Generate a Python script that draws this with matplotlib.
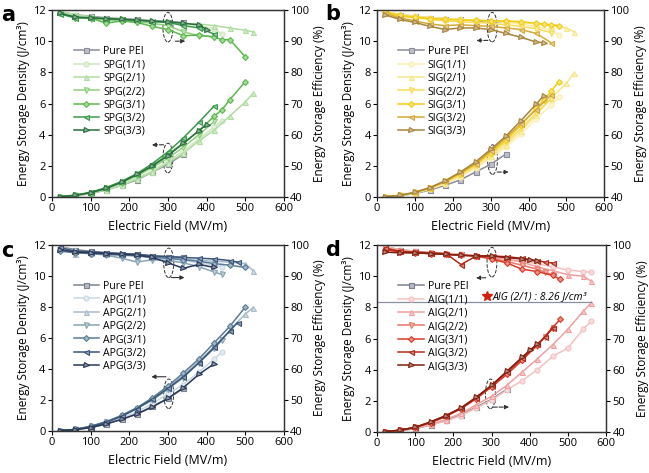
import matplotlib.pyplot as plt
from matplotlib.patches import Ellipse
from matplotlib.colors import to_rgb

plt.rcParams['font.family'] = ['Open Sans', 'DejaVu Sans']

# ---------------------------------------------------------------
# Data (fields in MV/m, density in J/cm3, efficiency in %)
# ---------------------------------------------------------------

markers = ['s', 'o', '^', 'v', 'D', '<', '>']

pei_field   = [20, 60, 100, 140, 180, 220, 260, 300, 340]
pei_density = [0.02, 0.08, 0.22, 0.45, 0.75, 1.1, 1.6, 2.1, 2.75]
pei_eff     = [99.5, 98.5, 98, 97.5, 97.25, 97, 96.5, 96.25, 96]

# --- a: SPG ---
spg_labels = ['SPG(1/1)', 'SPG(2/1)', 'SPG(2/2)', 'SPG(3/1)', 'SPG(3/2)', 'SPG(3/3)']
spg_fields = [
    [20, 60, 100, 140, 180, 220, 260, 300, 340, 380, 420, 440],
    [20, 60, 100, 140, 180, 220, 260, 300, 340, 380, 420, 460, 500, 520],
    [20, 60, 100, 140, 180, 220, 260, 300, 340, 380, 420],
    [20, 60, 100, 140, 180, 220, 260, 300, 340, 380, 420, 440, 460, 500],
    [20, 60, 100, 140, 180, 220, 260, 300, 340, 380, 420],
    [20, 60, 100, 140, 180, 220, 260, 300, 340, 380, 400],
]
spg_density = [
    [0.02, 0.08, 0.25, 0.5, 0.8, 1.2, 1.7, 2.3, 2.95, 3.7, 4.5, 4.9],
    [0.02, 0.08, 0.25, 0.45, 0.75, 1.15, 1.6, 2.2, 2.8, 3.6, 4.3, 5.2, 6.1, 6.65],
    [0.02, 0.1, 0.28, 0.55, 0.9, 1.35, 1.9, 2.5, 3.2, 4.0, 4.85],
    [0.02, 0.1, 0.28, 0.55, 0.95, 1.45, 2.0, 2.75, 3.45, 4.25, 5.2, 5.6, 6.25, 7.4],
    [0.02, 0.12, 0.3, 0.6, 1.0, 1.5, 2.15, 2.9, 3.8, 4.8, 5.85],
    [0.02, 0.1, 0.28, 0.55, 0.95, 1.45, 2.0, 2.65, 3.45, 4.25, 4.65],
]
spg_eff = [
    [99.5, 98.5, 97.75, 97.25, 97, 96.75, 96.5, 96, 95.5, 95, 94, 92.25],
    [99.5, 98.5, 97.75, 97.25, 97, 96.75, 96.5, 96, 95.75, 95.5, 95, 94.25, 93.5, 93],
    [99, 97.75, 97.25, 96.75, 96.5, 96.25, 95.75, 95, 93, 91.75, 91.5],
    [99, 97.5, 97.5, 95.75, 96.5, 96, 94.75, 93.75, 91.75, 92, 91.25, 90.5, 90.5, 85],
    [98.75, 97.5, 97.5, 97.25, 97, 96.75, 96.25, 96, 95, 94.25, 92.25],
    [99, 97.75, 97.5, 97.25, 97, 96.75, 96.5, 96.25, 95.75, 95.25, 93.75],
]
spg_colors = ['#8a8c9a', '#cde8bf', '#b0dca2', '#8fd07e', '#5cb84c', '#3c9a4c', '#2a6e40']

# --- b: SIG ---
sig_labels = ['SIG(1/1)', 'SIG(2/1)', 'SIG(2/2)', 'SIG(3/1)', 'SIG(3/2)', 'SIG(3/3)']
sig_fields = [
    [20, 60, 100, 140, 180, 220, 260, 300, 340, 380, 420, 460, 480],
    [20, 60, 100, 140, 180, 220, 260, 300, 340, 380, 420, 460, 500, 520],
    [20, 60, 100, 140, 180, 220, 260, 300, 340, 380, 420, 460],
    [20, 60, 100, 140, 180, 220, 260, 300, 340, 380, 420, 440, 460, 480],
    [20, 60, 100, 140, 180, 220, 260, 300, 340, 380, 420, 460],
    [20, 60, 100, 140, 180, 220, 260, 300, 340, 380, 420, 440],
]
sig_density = [
    [0.02, 0.08, 0.25, 0.5, 0.85, 1.3, 1.85, 2.5, 3.2, 4.05, 5.0, 5.9, 6.4],
    [0.02, 0.1, 0.28, 0.55, 0.9, 1.35, 1.95, 2.6, 3.35, 4.25, 5.25, 6.35, 7.3, 7.95],
    [0.02, 0.1, 0.28, 0.55, 0.95, 1.45, 2.05, 2.75, 3.5, 4.4, 5.4, 6.3],
    [0.02, 0.1, 0.3, 0.6, 1.0, 1.5, 2.1, 2.85, 3.65, 4.6, 5.7, 6.2, 6.8, 7.4],
    [0.02, 0.1, 0.3, 0.6, 1.0, 1.55, 2.15, 2.95, 3.8, 4.7, 5.6, 6.55],
    [0.02, 0.1, 0.3, 0.6, 1.05, 1.6, 2.25, 3.05, 3.9, 4.9, 5.95, 6.5],
]
sig_eff = [
    [99.75, 98.5, 98, 97.5, 97.25, 97, 96.75, 96.5, 96, 95.5, 94.75, 93.5, 92],
    [99.5, 98.5, 98, 97.5, 97.25, 97, 96.75, 96.5, 96.25, 96, 95.5, 95, 94.25, 93],
    [99.25, 98, 97.5, 97, 96.5, 96.25, 96, 95.75, 95.25, 94.75, 94, 92.75],
    [99.5, 98.25, 97.75, 97.25, 97, 96.75, 96.75, 96.5, 96.5, 96.25, 95.75, 95.5, 95.25, 95],
    [99, 97.5, 96.5, 95.5, 95, 95.25, 95, 94.75, 94.25, 93.75, 92.5, 89.5],
    [98.5, 97, 96, 94.75, 93.75, 94.25, 94.25, 93.75, 92.5, 91.25, 89.75, 89.5],
]
sig_colors = ['#8a8c9a', '#fbeeb0', '#f8e68a', '#f5dc5a', '#f2cc10', '#d4aa3a', '#a8843c']

# --- c: APG ---
apg_labels = ['APG(1/1)', 'APG(2/1)', 'APG(2/2)', 'APG(3/1)', 'APG(3/2)', 'APG(3/3)']
apg_fields = [
    [20, 60, 100, 140, 180, 220, 260, 300, 340, 380, 420, 440],
    [20, 60, 100, 140, 180, 220, 260, 300, 340, 380, 420, 460, 500, 520],
    [20, 60, 100, 140, 180, 220, 260, 300, 340, 380, 420, 440],
    [20, 60, 100, 140, 180, 220, 260, 300, 340, 380, 420, 460, 500],
    [20, 60, 100, 140, 180, 220, 260, 300, 340, 380, 420, 460, 480],
    [20, 60, 100, 140, 180, 220, 260, 300, 340, 380, 420],
]
apg_density = [
    [0.02, 0.08, 0.25, 0.5, 0.85, 1.25, 1.75, 2.4, 3.0, 3.8, 4.65, 5.1],
    [0.02, 0.1, 0.3, 0.6, 1.0, 1.5, 2.1, 2.8, 3.6, 4.5, 5.45, 6.5, 7.55, 7.95],
    [0.02, 0.1, 0.3, 0.55, 0.95, 1.45, 2.0, 2.7, 3.45, 4.4, 5.35, 5.85],
    [0.02, 0.1, 0.3, 0.6, 1.0, 1.5, 2.15, 2.9, 3.75, 4.65, 5.7, 6.75, 8.0],
    [0.02, 0.1, 0.28, 0.55, 0.95, 1.45, 2.05, 2.75, 3.5, 4.4, 5.4, 6.45, 7.0],
    [0.02, 0.08, 0.22, 0.45, 0.75, 1.1, 1.55, 2.1, 2.8, 3.65, 4.35],
]
apg_eff = [
    [99.5, 98, 97.25, 97, 96.75, 96.5, 96, 95.5, 95, 94.25, 93.5, 93],
    [99, 97.25, 97.5, 97.25, 97, 96.5, 96.25, 95.75, 95.5, 95, 94.75, 94.5, 94, 91.75],
    [98.5, 97.5, 97.25, 96.75, 95.75, 94.5, 95.25, 95, 94.25, 93, 91.25, 90.5],
    [98, 97.5, 97.25, 97, 96.75, 96.5, 96, 95.75, 95.25, 94.75, 94, 93.5, 92.75],
    [99.25, 98, 97.75, 97.5, 97.25, 97, 96.5, 96.25, 96, 95.75, 95.5, 95, 94.5],
    [98.5, 97.75, 97.5, 97.25, 97, 96.75, 96, 94.25, 92.5, 93.75, 92.75],
]
apg_colors = ['#7a8290', '#c8d8e4', '#a8bccc', '#8aa4b4', '#5a7c98', '#3a5478', '#2a3858']

# --- d: AIG ---
aig_labels = ['AIG(1/1)', 'AIG(2/1)', 'AIG(2/2)', 'AIG(3/1)', 'AIG(3/2)', 'AIG(3/3)']
aig_fields = [
    [20, 60, 100, 140, 180, 220, 260, 300, 340, 380, 420, 460, 500, 540, 560],
    [20, 60, 100, 140, 180, 220, 260, 300, 340, 380, 420, 460, 500, 540, 560],
    [20, 60, 100, 140, 180, 220, 260, 300, 340, 380, 420, 440, 460],
    [20, 60, 100, 140, 180, 220, 260, 300, 340, 380, 420, 460, 480],
    [20, 60, 100, 140, 180, 220, 260, 300, 340, 380, 420, 440, 460],
    [20, 60, 100, 140, 180, 220, 260, 300, 340, 380, 400, 420],
]
aig_density = [
    [0.02, 0.1, 0.25, 0.45, 0.7, 1.05, 1.55, 2.05, 2.7, 3.3, 4.0, 4.85, 5.4, 6.6, 7.1],
    [0.02, 0.1, 0.28, 0.5, 0.8, 1.2, 1.75, 2.3, 3.0, 3.85, 4.7, 5.6, 6.6, 7.75, 8.26],
    [0.02, 0.12, 0.3, 0.6, 1.0, 1.5, 2.15, 2.9, 3.75, 4.65, 5.55, 6.1, 6.65],
    [0.02, 0.12, 0.3, 0.6, 1.0, 1.5, 2.15, 2.9, 3.7, 4.6, 5.6, 6.7, 7.25],
    [0.02, 0.12, 0.3, 0.65, 1.05, 1.55, 2.2, 3.0, 3.85, 4.75, 5.65, 6.1, 6.7],
    [0.02, 0.12, 0.3, 0.65, 1.05, 1.55, 2.25, 3.0, 3.9, 4.8, 5.25, 5.65],
]
aig_eff = [
    [99.5, 98.5, 98, 97.5, 97.25, 97, 96.5, 96, 95.5, 94.75, 94, 93, 92, 91.5, 91.25],
    [99.25, 98.25, 97.75, 97.5, 97.25, 97, 96.5, 96, 95.5, 94.5, 93, 91.75, 90.5, 90, 88.5],
    [99, 98, 97.75, 97.5, 97, 96.75, 96.5, 95.75, 94.75, 93.5, 92.25, 91.25, 90.5],
    [98.5, 97.75, 97.5, 97.25, 97, 96.75, 96.5, 95.5, 94.25, 92.25, 91.5, 90.25, 89],
    [99, 98, 97.75, 97.5, 97.25, 93.75, 96.5, 96.5, 96.25, 95.75, 95, 94.5, 94.25],
    [97.75, 97.5, 97.5, 97.25, 97, 96.75, 96.5, 96.5, 96, 95.5, 95.25, 94.75],
]
aig_colors = ['#7a8090', '#f6c0c0', '#f0a0a0', '#e87868', '#d83a28', '#b02818', '#802010']

best_label = 'AIG (2/1) : 8.26 J/cm³'
best_value = 8.26

W, H = 649, 473


def lighten(c, f=0.45):
    r, g, b = to_rgb(c)
    return (r + (1 - r) * f, g + (1 - g) * f, b + (1 - b) * f)


def draw_panel(fig, rect, letter, letter_xy, labels, colors, fields, dens, effs,
               up, low, up_dir, low_dir, dashed_arrow=True):
    ax = fig.add_axes(rect)
    ax2 = ax.twinx()

    all_f = [pei_field] + fields
    all_d = [pei_density] + dens
    all_e = [pei_eff] + effs
    all_l = ['Pure PEI'] + labels

    handles = []
    for i in range(7):
        ms = 3.0 if markers[i] == 'D' else 3.6
        kw = dict(color=colors[i], marker=markers[i], ms=ms, lw=1.1,
                  mfc=lighten(colors[i]), mec=colors[i], mew=0.8)
        h, = ax.plot(all_f[i], all_d[i], label=all_l[i], **kw)
        ax2.plot(all_f[i], all_e[i], **kw)
        handles.append(h)

    ax.set_xlim(0, 600)
    ax.set_ylim(0, 12)
    ax2.set_ylim(40, 100)
    ax.set_xticks([0, 100, 200, 300, 400, 500, 600])
    ax.set_yticks([0, 2, 4, 6, 8, 10, 12])
    ax2.set_yticks([40, 50, 60, 70, 80, 90, 100])

    ax.set_xlabel('Electric Field (MV/m)', fontsize=9, labelpad=4)
    ax.set_ylabel('Energy Storage Density (J/cm³)', fontsize=8.5, labelpad=2)
    ax2.set_ylabel('Energy Storage Efficiency (%)', fontsize=8.5, labelpad=3)
    for a in (ax, ax2):
        a.tick_params(labelsize=8, length=3, width=0.8, pad=1.5)
        for s in a.spines.values():
            s.set_linewidth(0.9)
            s.set_color('#333333')

    # dashed ellipses marking the two groups of curves
    ls = '--' if dashed_arrow else '-'
    for (cx, cy), (dx, ay), d in ((up, up_dir[0], up_dir[1]), (low, low_dir[0], low_dir[1])):
        ax.add_patch(Ellipse((cx, cy), 26, 1.9, fill=False, ls='--',
                             lw=0.7, ec='#333333'))
        ax.annotate('', xy=(dx + d, ay), xytext=(dx, ay),
                    arrowprops=dict(arrowstyle='-|>', ls=ls, lw=0.8,
                                    color='#333333', mutation_scale=6))

    ax.legend(handles=handles, loc='upper left', bbox_to_anchor=(0.075, 0.83),
              frameon=False, fontsize=7.6, handlelength=2.4, handletextpad=0.4,
              labelspacing=0.22, borderaxespad=0)

    fig.text(letter_xy[0] / W, 1 - letter_xy[1] / H, letter,
             fontsize=15, fontweight='bold', va='center', ha='left',
             family='DejaVu Sans')
    return ax, ax2


def main():
    fig = plt.figure(figsize=(6.49, 4.73), dpi=100)

    draw_panel(fig, [0.080, 0.5835, 0.3575, 0.3953], 'a', (1, 15),
               spg_labels, spg_colors, spg_fields, spg_density, spg_eff,
               up=(300, 10.9), low=(300, 2.5),
               up_dir=((312, 10.0), 40), low_dir=((296, 3.35), -45))

    draw_panel(fig, [0.581, 0.5835, 0.350, 0.3953], 'b', (325, 14),
               sig_labels, sig_colors, sig_fields, sig_density, sig_eff,
               up=(304, 10.9), low=(305, 2.4),
               up_dir=((300, 10.05), -45), low_dir=((310, 1.6), 45))

    draw_panel(fig, [0.080, 0.0888, 0.3575, 0.3932], 'c', (1, 251),
               apg_labels, apg_colors, apg_fields, apg_density, apg_eff,
               up=(302, 10.85), low=(302, 2.4),
               up_dir=((302, 9.9), 48), low_dir=((302, 3.5), -52),
               dashed_arrow=False)

    ax, ax2 = draw_panel(fig, [0.581, 0.0866, 0.3529, 0.3953], 'd', (325, 250),
                         aig_labels, aig_colors, aig_fields, aig_density, aig_eff,
                         up=(301, 10.9), low=(297, 2.45),
                         up_dir=((292, 9.9), -40), low_dir=((297, 1.6), 56))

    # best energy density marker line and note
    ax.plot([0, aig_fields[1][-1]], [best_value + 0.09] * 2, color='#8890a0', lw=0.9)
    ax.plot([288], [8.7], marker='*', color='#d02010', ms=7, ls='none')
    ax.text(302, 8.7, best_label, fontsize=7.5, style='italic', va='center')

    fig.savefig('out.png', dpi=100)


if __name__ == "__main__":
    main()
